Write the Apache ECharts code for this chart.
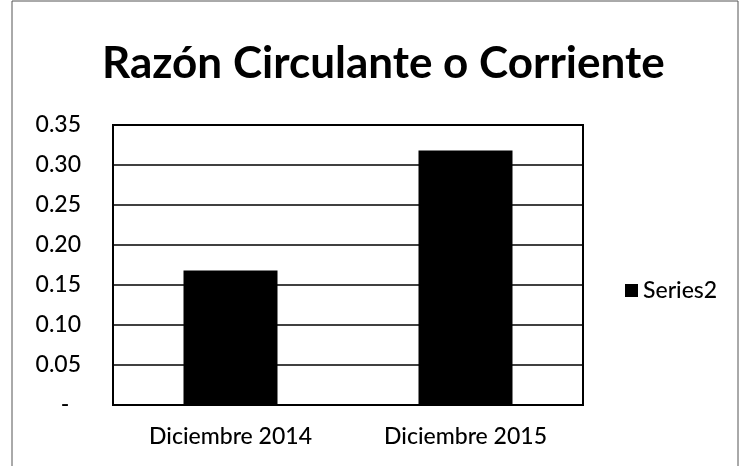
<!DOCTYPE html>
<html><head><meta charset="utf-8">
<script src="https://cdn.jsdelivr.net/npm/echarts@6/dist/echarts.min.js"></script>
<style>html,body{margin:0;padding:0;background:#fff}#c{width:741px;height:466px}</style>
</head><body><div id="c"></div>
<script>
const categories = ['Diciembre 2014', 'Diciembre 2015'];
const series2 = [0.168, 0.318];
const yTicks = [0, 0.05, 0.10, 0.15, 0.20, 0.25, 0.30, 0.35];
const seriesName = 'Series2';
const titleText = 'Razón Circulante o Corriente';

const chart = echarts.init(document.getElementById('c'));
const font = 'Lato, "Open Sans", sans-serif';
chart.setOption({
  animation: false,
  backgroundColor: '#fff',
  title: {
    text: titleText, left: 97, top: 37,
    textStyle: { fontFamily: font, fontWeight: 'bold', fontSize: 44, color: '#000' }
  },
  legend: {
    data: [seriesName], orient: 'vertical', left: 620, top: 274,
    itemWidth: 13, itemHeight: 13, itemGap: 4, icon: 'rect',
    textStyle: { fontFamily: font, fontSize: 23, color: '#000', fontWeight: 500 }
  },
  grid: { left: 113, right: 158, top: 125, bottom: 61, show: true, borderColor: '#000', borderWidth: 2 },
  xAxis: {
    type: 'category', data: categories,
    axisLine: { show: false }, axisTick: { show: false },
    axisLabel: { fontFamily: font, fontSize: 23, color: '#000', margin: 20, fontWeight: 500 }
  },
  yAxis: {
    type: 'value', min: 0, max: 0.35, interval: 0.05,
    axisLine: { show: false }, axisTick: { show: false },
    splitLine: { lineStyle: { color: '#000', width: 1.5 } },
    axisLabel: {
      fontFamily: font, fontSize: 23, color: '#000', margin: 32, fontWeight: 500,
      formatter: v => (Math.abs(v) < 1e-9 ? '-\u00a0\u00a0' : yTicks.find(t => Math.abs(t - v) < 1e-9).toFixed(2))
    }
  },
  series: [{
    name: seriesName, type: 'bar', data: series2, barWidth: '40%',
    itemStyle: { color: '#000' }
  }],
  graphic: [{
    type: 'rect', shape: { x: 12, y: 1, width: 726, height: 470 },
    style: { fill: 'none', stroke: '#555', lineWidth: 1 }, silent: true
  }]
});
</script></body></html>
